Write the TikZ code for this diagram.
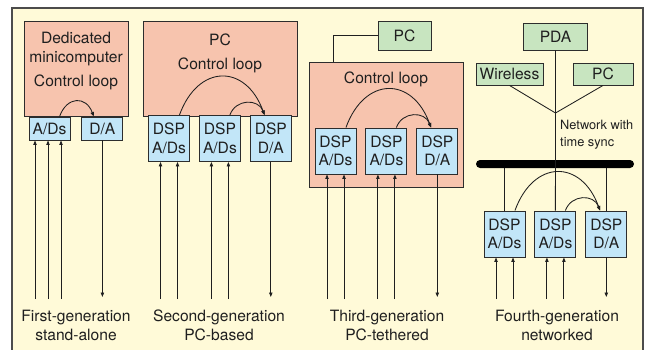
\documentclass[tikz,border=0pt]{standalone}
\usepackage{fontspec}
\setmainfont{TeX Gyre Heros}
\usetikzlibrary{arrows.meta,positioning,calc}

\definecolor{bgyellow}{RGB}{255,250,216}
\definecolor{hostpink}{RGB}{247,196,174}
\definecolor{dspblue}{RGB}{194,230,248}
\definecolor{netgreen}{RGB}{200,229,192}
\definecolor{edgegray}{RGB}{45,45,45}

\tikzset{
  host/.style={draw=edgegray, fill=hostpink, line width=0.9pt, minimum width=154pt, minimum height=95pt, inner sep=0pt},
  dsp/.style={draw=edgegray, fill=dspblue, line width=0.9pt, minimum width=41pt, minimum height=46pt, inner sep=0pt, align=center, font=\fontsize{15.6}{18.6}\selectfont},
  net/.style={draw=edgegray, fill=netgreen, line width=0.9pt, inner sep=0pt, font=\fontsize{15.6}{18.6}\selectfont},
  caption/.style={align=center, inner sep=0pt, anchor=north, font=\fontsize{15.6}{19}\selectfont},
  sig/.style={line width=0.85pt, -{Triangle[length=4.5pt,width=3.4pt]}},
  wire/.style={line width=0.85pt},
  bigloop/.style={bend left=70, looseness=1.65},
  smallloop/.style={bend left=70, looseness=1.3}
}

\begin{document}
\begin{tikzpicture}[x=1pt, y=1pt, color=black!88]
\useasboundingbox (0,0) rectangle (647,349);
\draw[draw=black!70, line width=1.5pt, fill=bgyellow] (12,-6) rectangle (643,341);

% first generation
\node[host, minimum width=104pt](host1) at (76,280.5){};
\node[caption](txt1) at (76,317.5){Dedicated\\minicomputer};
\node[caption](loop1)[below = 8.5pt of txt1]{Control loop};
\node[dsp, minimum height=23pt](ad1) at (49.5,220.5){A/Ds};
\node[dsp, minimum height=23pt](da1)[right = 11pt of ad1]{D/A};
\node[caption](cap1) at (76,39.5){First-generation\\stand-alone};

% second generation
\node[host](host2) at (220,280.5){};
\node[caption](txt2) at (220,315.7){PC};
\node[caption](loop2) at (220,291.7){Control loop};
\node[dsp](d21) at (169,210.5){DSP\\A/Ds};
\node[dsp](d22)[right = 9pt of d21]{DSP\\A/Ds};
\node[dsp](d23)[right = 9pt of d22]{DSP\\D/A};
\node[caption](cap2) at (219,39.5){Second-generation\\PC-based};

% third generation
\node[net, minimum width=53pt, minimum height=29pt](pc3) at (404.5,313.5){PC};
\node[host, minimum height=125pt](host3) at (386,224.5){};
\node[caption](loop3) at (386,277.3){Control loop};
\node[dsp](d31) at (335.5,198){DSP\\A/Ds};
\node[dsp](d32)[right = 9pt of d31]{DSP\\A/Ds};
\node[dsp](d33)[right = 9pt of d32]{DSP\\D/A};
\node[caption](cap3) at (387,39.5){Third-generation\\PC-tethered};

% fourth generation
\node[net, minimum width=64pt, minimum height=27pt](pda) at (555.5,312.5){PDA};
\node[net, minimum width=67pt, minimum height=22pt](wl) at (509.5,275){Wireless};
\node[net, minimum width=60pt, minimum height=22pt](pc4) at (603,275){PC};
\coordinate (hub) at (555.5,236);
\node[anchor=north west, align=left, inner sep=0pt, font=\fontsize{12.8}{17}\selectfont](netlbl) at (560,229.5){Network with\\time sync};
\node[fill=black, rounded corners=4pt, minimum width=158pt, minimum height=8pt, inner sep=0pt](bus) at (555,185){};
\node[dsp](d41) at (504.5,115){DSP\\A/Ds};
\node[dsp](d42)[right = 9pt of d41]{DSP\\A/Ds};
\node[dsp](d43)[right = 9pt of d42]{DSP\\D/A};
\node[caption](cap4) at (557,39.5){Fourth-generation\\networked};

% free ends of the signal lines
\coordinate (in11) at (35,50);
\coordinate (in12) at (48,50);
\coordinate (in13) at (61,50);
\coordinate (in21) at ($(d21.south)+(-8.5,0)$);
\coordinate (in22) at ($(d21.south)+(8.5,0)$);
\coordinate (in23) at ($(d22.south)+(-8.5,0)$);
\coordinate (in24) at ($(d22.south)+(8.5,0)$);
\coordinate (in31) at ($(d31.south)+(-8.5,0)$);
\coordinate (in32) at ($(d31.south)+(8.5,0)$);
\coordinate (in33) at ($(d32.south)+(-8.5,0)$);
\coordinate (in34) at ($(d32.south)+(8.5,0)$);
\coordinate (in41) at ($(d41.south)+(-8.5,0)$);
\coordinate (in42) at ($(d41.south)+(8.5,0)$);
\coordinate (in43) at ($(d42.south)+(-8.5,0)$);
\coordinate (in44) at ($(d42.south)+(8.5,0)$);
\coordinate (low) at (0,50);
\coordinate (outlow) at (0,52);

\path[sig]
	(in11 |- low) edge (in11 |- ad1.south)
	(in12 |- low) edge (in12 |- ad1.south)
	(in13 |- low) edge (in13 |- ad1.south)
	(da1.south) edge (da1.south |- outlow)
	(in21 |- low) edge (in21)
	(in22 |- low) edge (in22)
	(in23 |- low) edge (in23)
	(in24 |- low) edge (in24)
	(d23.south) edge (d23.south |- outlow)
	(in31 |- low) edge (in31)
	(in32 |- low) edge (in32)
	(in33 |- low) edge (in33)
	(in34 |- low) edge (in34)
	(d33.south) edge (d33.south |- outlow)
	(in41 |- low) edge (in41)
	(in42 |- low) edge (in42)
	(in43 |- low) edge (in43)
	(in44 |- low) edge (in44)
	(d43.south) edge (d43.south |- outlow);

% control loops
\path[sig]
	(ad1.50) edge [bigloop] (da1.126)
	(d21.66) edge [bigloop] (d23.105)
	(d22.67) edge [smallloop] (d23.105)
	(d31.66) edge [bigloop] (d33.105)
	(d32.67) edge [smallloop] (d33.105)
	(d41.66) edge [bigloop] (d43.105)
	(d42.67) edge [smallloop] (d43.105);

% network
\draw[wire] (pc3.west) -| ($(host3.north west)+(25,0)$);
\draw[wire] (pda.south) -- (d42.north);
\draw[wire] (wl.south) -- (hub);
\draw[wire] (pc4.south) -- (hub);
\draw[wire] (d41.north |- bus.south) -- (d41.north);
\draw[wire] (d43.north |- bus.south) -- (d43.north);
\end{tikzpicture}
\end{document}
